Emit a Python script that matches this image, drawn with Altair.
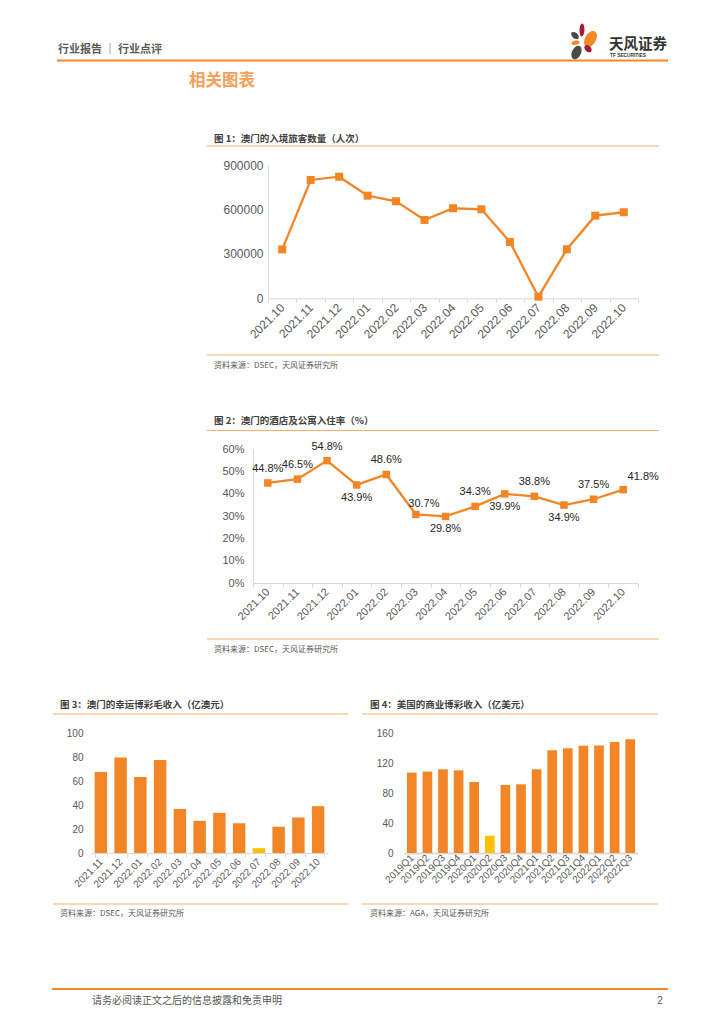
import altair as alt
import pandas as pd

# ---------------- data ----------------
months = ["2021.10", "2021.11", "2021.12", "2022.01", "2022.02", "2022.03", "2022.04",
          "2022.05", "2022.06", "2022.07", "2022.08", "2022.09", "2022.10"]
visitors = [330000, 799000, 821000, 693000, 655000, 529000, 608000,
            601000, 380000, 11000, 331000, 558000, 581000]
occupancy_pct = [44.8, 46.5, 54.8, 43.9, 48.6, 30.7, 29.8, 34.3, 39.9, 38.8, 34.9, 37.5, 41.8]
occupancy_label_side = ["above", "above", "above", "below", "above", "above-right", "below",
                        "above", "below", "above", "below", "above", "above-far-right"]

ggr_months = ["2021.11", "2021.12", "2022.01", "2022.02", "2022.03", "2022.04",
              "2022.05", "2022.06", "2022.07", "2022.08", "2022.09", "2022.10"]
ggr_values = [67.5, 79.6, 63.4, 77.6, 36.7, 26.8, 33.4, 24.8, 4.0, 21.9, 29.6, 39.0]
ggr_highlight = "2022.07"

us_quarters = ["2019Q1", "2019Q2", "2019Q3", "2019Q4", "2020Q1", "2020Q2", "2020Q3", "2020Q4",
               "2021Q1", "2021Q2", "2021Q3", "2021Q4", "2022Q1", "2022Q2", "2022Q3"]
us_values = [107.2, 108.5, 111.6, 110.2, 94.7, 23.1, 90.8, 91.6,
             111.6, 137.0, 139.6, 143.0, 143.2, 148.0, 151.7]
us_highlight = "2020Q2"

# ---------------- style ----------------
W, H = 708, 1008
CN = "Noto Sans CJK SC"
NUM = "Liberation Sans"
ORANGE = "#F28526"
YELLOW = "#FFC000"
RULE = "#F7AE70"
HEAD = "#F08A24"
AX = "#D9D9D9"
LBL = "#595959"
TTL = "#404040"


def X(p):
    return p - 8


def Y(p):
    return p - 8


one = pd.DataFrame({"k": [0]})


def text(s, x, y, size, color, weight="normal", align="left", font=CN):
    return alt.Chart(one).mark_text(
        text=s, align=align, baseline="middle", font=font, fontSize=size,
        color=color, fontWeight=weight
    ).encode(x=alt.value(X(x)), y=alt.value(Y(y)))


def hrule(x1, x2, y, color, width=1.0):
    return alt.Chart(one).mark_rule(color=color, strokeWidth=width).encode(
        x=alt.value(X(x1)), x2=alt.value(X(x2)), y=alt.value(Y(y)))


def petal(x, y, length, ratio, angle, color):
    path = f"M-1,0A1,{ratio},0,1,0,1,0A1,{ratio},0,1,0,-1,0Z"
    return alt.Chart(one).mark_point(
        shape=path, filled=True, size=length * length, angle=angle,
        color=color, opacity=1, strokeWidth=0
    ).encode(x=alt.value(X(x)), y=alt.value(Y(y)))


def band_x(field, domain, x0, x1, y_axis, pad, label_size, ticks=True, dwidth=1):
    return alt.X(
        f"{field}:N", sort=domain, title=None,
        scale=alt.Scale(type="band", domain=domain, range=[X(x0), X(x1)],
                        paddingInner=pad, paddingOuter=pad / 2),
        axis=alt.Axis(orient="bottom", offset=Y(y_axis) - H, labelAngle=-45,
                      labelAlign="right", labelBaseline="middle", labelPadding=3,
                      labelFont=NUM, labelFontSize=label_size, labelColor=LBL,
                      tickBand="extent", ticks=ticks, tickSize=4 if ticks else 0,
                      tickColor=AX, domainColor=AX, domainWidth=dwidth,
                      labelOverlap=False, grid=False))


def lin_y(field, domain, y0, y1, x_axis, values, fmt, label_size, pad, dline):
    return alt.Y(
        f"{field}:Q", title=None,
        scale=alt.Scale(domain=domain, range=[Y(y0), Y(y1)], nice=False, zero=False),
        axis=alt.Axis(orient="left", offset=-X(x_axis), values=values, format=fmt,
                      labelFont=NUM, labelFontSize=label_size, labelColor=LBL,
                      labelPadding=pad, ticks=False, tickSize=0, domain=dline,
                      domainColor=AX, grid=False))


# ---------------- figure 1 ----------------
df1 = pd.DataFrame({"month": months, "visitors": visitors})
base1 = alt.Chart(df1).encode(
    x=band_x("month", months, 268, 638, 298.3, 0, 12),
    y=lin_y("visitors", [0, 900000], 298.3, 165, 268, [0, 300000, 600000, 900000], "d", 12, 5, True),
)
fig1 = alt.layer(
    base1.mark_line(color=ORANGE, strokeWidth=2.3),
    base1.mark_point(shape="square", filled=True, size=64, color=ORANGE, opacity=1),
)

# ---------------- figure 2 ----------------
df2 = pd.DataFrame({"month": months, "occ": [v / 100 for v in occupancy_pct],
                    "side": occupancy_label_side})
base2 = alt.Chart(df2).encode(
    x=band_x("month", months, 253, 638, 583, 0, 11),
    y=lin_y("occ", [0, 0.6], 583, 449, 253, [0, 0.1, 0.2, 0.3, 0.4, 0.5, 0.6], ".0%", 11, 9, True),
)
label_offsets = {"above": (0, -14), "below": (0, 13),
                 "above-right": (8, -10), "above-far-right": (20, -13)}
label_layers = [
    base2.transform_filter(alt.datum.side == side).mark_text(
        dx=dx, dy=dy, font=NUM, fontSize=11, color="#262626"
    ).encode(text=alt.Text("occ:Q", format=".1%"))
    for side, (dx, dy) in label_offsets.items()
]
fig2 = alt.layer(
    base2.mark_line(color=ORANGE, strokeWidth=2.3),
    base2.mark_point(shape="square", filled=True, size=56, color=ORANGE, opacity=1),
    *label_layers,
)

# ---------------- figure 3 ----------------
df3 = pd.DataFrame({"month": ggr_months, "ggr": ggr_values})
fig3 = alt.Chart(df3).mark_bar().encode(
    x=band_x("month", ggr_months, 91, 328, 853, 0.37, 10),
    y=lin_y("ggr", [0, 100], 853, 733, 91, [0, 20, 40, 60, 80, 100], "d", 10, 8, False),
    color=alt.condition(alt.datum.month == ggr_highlight, alt.value(YELLOW), alt.value(ORANGE)),
)

# ---------------- figure 4 ----------------
df4 = pd.DataFrame({"quarter": us_quarters, "rev": us_values})
fig4 = alt.Chart(df4).mark_bar().encode(
    x=band_x("quarter", us_quarters, 404, 638, 853, 0.38, 10, ticks=False, dwidth=2),
    y=lin_y("rev", [0, 160], 853, 733, 404, [0, 40, 80, 120, 160], "d", 10, 11, False),
    color=alt.condition(alt.datum.quarter == us_highlight, alt.value(YELLOW), alt.value(ORANGE)),
)

# ---------------- page decorations ----------------
decor = [
    # header
    text("行业报告 ｜ 行业点评", 58, 50, 11, "#5A5A5A", "bold"),
    hrule(57, 668, 60.5, HEAD, 2),
    petal(582, 30, 13, 0.38, 92, "#A8193A"),
    petal(575, 35.5, 9, 0.62, 40, "#4A4A4A"),
    petal(590.5, 39, 17.5, 0.62, 300, HEAD),
    petal(575.5, 42.7, 8.5, 0.5, 170, HEAD),
    petal(588, 48.7, 8.5, 0.7, 45, "#A8193A"),
    petal(576.5, 52.5, 14.5, 0.62, 295, "#4A4A4A"),
    text("天风证券", 609, 45, 14.5, "#333333", "bold"),
    text("TF SECURITIES", 610, 56, 4.8, "#333333", "bold", font=NUM),
    text("相关图表", 189, 81, 16.5, "#F4A05A", "bold"),
    # figure 1 frame
    text("图 1：澳门的入境旅客数量（人次）", 214, 139, 9.5, TTL, "bold"),
    hrule(207, 659, 146, RULE),
    hrule(207, 659, 355, RULE),
    text("资料来源：DSEC，天风证券研究所", 214, 366, 8, LBL),
    # figure 2 frame
    text("图 2：澳门的酒店及公寓入住率（%）", 214, 421, 9.5, TTL, "bold"),
    hrule(207, 659, 430.5, RULE),
    hrule(207, 659, 639, RULE),
    text("资料来源：DSEC，天风证券研究所", 214, 649.5, 8, LBL),
    # figure 3 frame
    text("图 3：澳门的幸运博彩毛收入（亿澳元）", 60, 705, 9.5, TTL, "bold"),
    hrule(53, 348, 714, RULE),
    hrule(53, 348, 904, RULE),
    text("资料来源：DSEC，天风证券研究所", 60, 913.5, 8, LBL),
    # figure 4 frame
    text("图 4：美国的商业博彩收入（亿美元）", 370, 705, 9.5, TTL, "bold"),
    hrule(362, 658, 714, RULE),
    hrule(362, 658, 904, RULE),
    text("资料来源：AGA，天风证券研究所", 370, 913.5, 8, LBL),
    # footer
    hrule(52, 668, 989, HEAD, 2),
    text("请务必阅读正文之后的信息披露和免责申明", 92, 1001, 10, "#555555"),
    text("2", 660, 1001, 10, "#555555", align="center", font=NUM),
]

chart = alt.layer(*decor, fig1, fig2, fig3, fig4).resolve_scale(
    x="independent", y="independent"
).properties(
    width=W, height=H, autosize=alt.AutoSizeParams(type="none"), padding=0
).configure_view(stroke=None).configure_axis(grid=False)

chart.save("out.html", embed_options={"renderer": "svg", "actions": False})
